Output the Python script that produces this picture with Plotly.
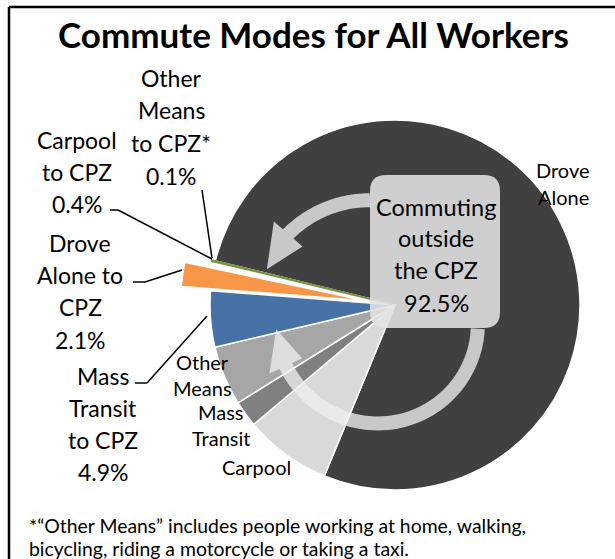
import numpy as np
import plotly.graph_objects as go

W, H = 615, 559

# ---------------- data ----------------
categories = ["Drove Alone", "Carpool", "Mass Transit", "Other Means",
              "Mass Transit to CPZ", "Drove Alone to CPZ", "Carpool to CPZ",
              "Other Means to CPZ"]
values = [77.4, 7.6, 2.3, 5.2, 4.9, 2.1, 0.4, 0.1]
colors = ["#404040", "#d9d9d9", "#808080", "#a6a6a6",
          "#4672a8", "#f79646", "#ffffff", "#77933c"]
pulls = [0, 0, 0, 0, 0, 0.16, 0.06, 0.02]
outside_total = sum(values[:4])

title_text = "Commute Modes for All Workers"
footnote_lines = ["*\u201cOther Means\u201d includes people working at home, walking,",
                  "bicycling, riding a motorcycle or taking a taxi."]

FONT = "Lato, 'Open Sans', sans-serif"


def P(x, y):
    return x / W, 1 - y / H


# pie geometry (pixels)
CX, CY, R = 395, 305, 185
maxpull = max(pulls)
half = R * (1 + maxpull)
dx0, dy0 = P(CX - half, CY + half)
dx1, dy1 = P(CX + half, CY - half)

line_colors = ["white"] * 7 + ["#77933c"]
line_widths = [1.5] * 7 + [1.6]

fig = go.Figure()
fig.add_trace(go.Pie(
    labels=categories, values=values, sort=False, direction="clockwise",
    rotation=-76.2, pull=pulls,
    marker=dict(colors=colors, line=dict(color=line_colors, width=line_widths)),
    textinfo="none", hoverinfo="label+percent", showlegend=False,
    domain=dict(x=[dx0, dx1], y=[dy0, dy1]),
))

shapes = []
annotations = []


def label(lines, x, ys, size=23, color="black", bold=False):
    for t, y in zip(lines, ys):
        xp, yp = P(x, y)
        annotations.append(dict(
            x=xp, y=yp, xref="paper", yref="paper", showarrow=False,
            text=f"<b>{t}</b>" if bold else t, xanchor="center", yanchor="middle",
            font=dict(family=FONT, size=size, color=color)))


def poly_path(pts):
    s = ""
    for i, (x, y) in enumerate(pts):
        xp, yp = P(x, y)
        s += ("M" if i == 0 else "L") + f"{xp:.5f},{yp:.5f} "
    return s + "Z"


def curved_arrow(cx, cy, a0, a1, r0, r1, hw, head_w, tip_da):
    angs = np.linspace(a0, a1, 60)
    rads = np.linspace(r0, r1, 60)
    outer = [(cx + (r + hw) * np.cos(np.radians(a)), cy + (r + hw) * np.sin(np.radians(a)))
             for a, r in zip(angs, rads)]
    inner = [(cx + (r - hw) * np.cos(np.radians(a)), cy + (r - hw) * np.sin(np.radians(a)))
             for a, r in zip(angs, rads)]
    a1r = np.radians(a1)
    wing_o = (cx + (r1 + head_w) * np.cos(a1r), cy + (r1 + head_w) * np.sin(a1r))
    wing_i = (cx + (r1 - head_w) * np.cos(a1r), cy + (r1 - head_w) * np.sin(a1r))
    at = np.radians(a1 + tip_da)
    tip = (cx + r1 * np.cos(at), cy + r1 * np.sin(at))
    pts = outer + [wing_o, tip, wing_i] + inner[::-1]
    return poly_path(pts)


ARROW = "rgba(238,238,238,0.78)"
shapes.append(dict(type="path", xref="paper", yref="paper", layer="above",
                   path=curved_arrow(378, 312, -94, -139, 112, 119, 7, 19, -20),
                   fillcolor=ARROW, line=dict(width=0)))
shapes.append(dict(type="path", xref="paper", yref="paper", layer="above",
                   path=curved_arrow(380, 322, 4, 155, 98, 104, 7, 18, 21),
                   fillcolor=ARROW, line=dict(width=0)))

# rounded box
bx0, by0, bx1, by1, rc = 370, 175, 500, 328, 16
def Pp(x, y):
    a, b = P(x, y)
    return f"{a:.5f},{b:.5f}"
box_path = (f"M{Pp(bx0 + rc, by0)} L{Pp(bx1 - rc, by0)} Q{Pp(bx1, by0)} {Pp(bx1, by0 + rc)} "
            f"L{Pp(bx1, by1 - rc)} Q{Pp(bx1, by1)} {Pp(bx1 - rc, by1)} "
            f"L{Pp(bx0 + rc, by1)} Q{Pp(bx0, by1)} {Pp(bx0, by1 - rc)} "
            f"L{Pp(bx0, by0 + rc)} Q{Pp(bx0, by0)} {Pp(bx0 + rc, by0)} Z")
shapes.append(dict(type="path", xref="paper", yref="paper", layer="above",
                   path=box_path, fillcolor="rgba(226,226,226,0.88)", line=dict(width=0)))


def seg(x0, y0, x1, y1, w=1.5):
    a, b = P(x0, y0)
    c, d = P(x1, y1)
    shapes.append(dict(type="line", xref="paper", yref="paper", layer="above",
                       x0=a, y0=b, x1=c, y1=d, line=dict(color="black", width=w)))

seg(202, 190, 212, 258)
seg(110, 210, 118, 210); seg(118, 210, 212, 259)
seg(133, 282, 145, 282); seg(145, 282, 182, 270)
seg(135, 383, 147, 383); seg(147, 383, 207, 316)

# frame
seg(9, 7, 9, 559, 2.5)
seg(9, 7, 615, 7, 2.5)

pct = {c: v for c, v in zip(categories, values)}

label(["Other", "Means", "to CPZ*", f"{pct['Other Means to CPZ']:.1f}%"], 171, [78, 110, 143, 176])
label(["Carpool", "to CPZ", f"{pct['Carpool to CPZ']:.1f}%"], 77, [140, 172, 204])
label(["Drove", "Alone to", "CPZ", f"{pct['Drove Alone to CPZ']:.1f}%"], 80, [243, 275, 307, 340])
label(["Mass", "Transit", "to CPZ", f"{pct['Mass Transit to CPZ']:.1f}%"], 103, [376, 408, 440, 472])
label(["Other", "Means"], 202, [362, 388], size=20)
label(["Mass", "Transit"], 221, [412, 438], size=20)
label(["Carpool"], 256, [467], size=20)
label(["Drove", "Alone"], 563, [170, 197], size=20)
label(["Commuting", "outside", "the CPZ", f"{outside_total:.1f}%"], 436, [207, 238, 270, 303], size=23.5)
label([title_text], 313, [34], size=35, bold=True)

for t, y in zip(footnote_lines, [525, 548]):
    xp, yp = P(27, y)
    annotations.append(dict(x=xp, y=yp, xref="paper", yref="paper", showarrow=False,
                            text=t, xanchor="left", yanchor="middle",
                            font=dict(family=FONT, size=19.4, color="black")))

fig.update_layout(
    width=W, height=H, margin=dict(l=0, r=0, t=0, b=0),
    paper_bgcolor="white", plot_bgcolor="white",
    shapes=shapes, annotations=annotations,
)
fig.write_html("out.html")
